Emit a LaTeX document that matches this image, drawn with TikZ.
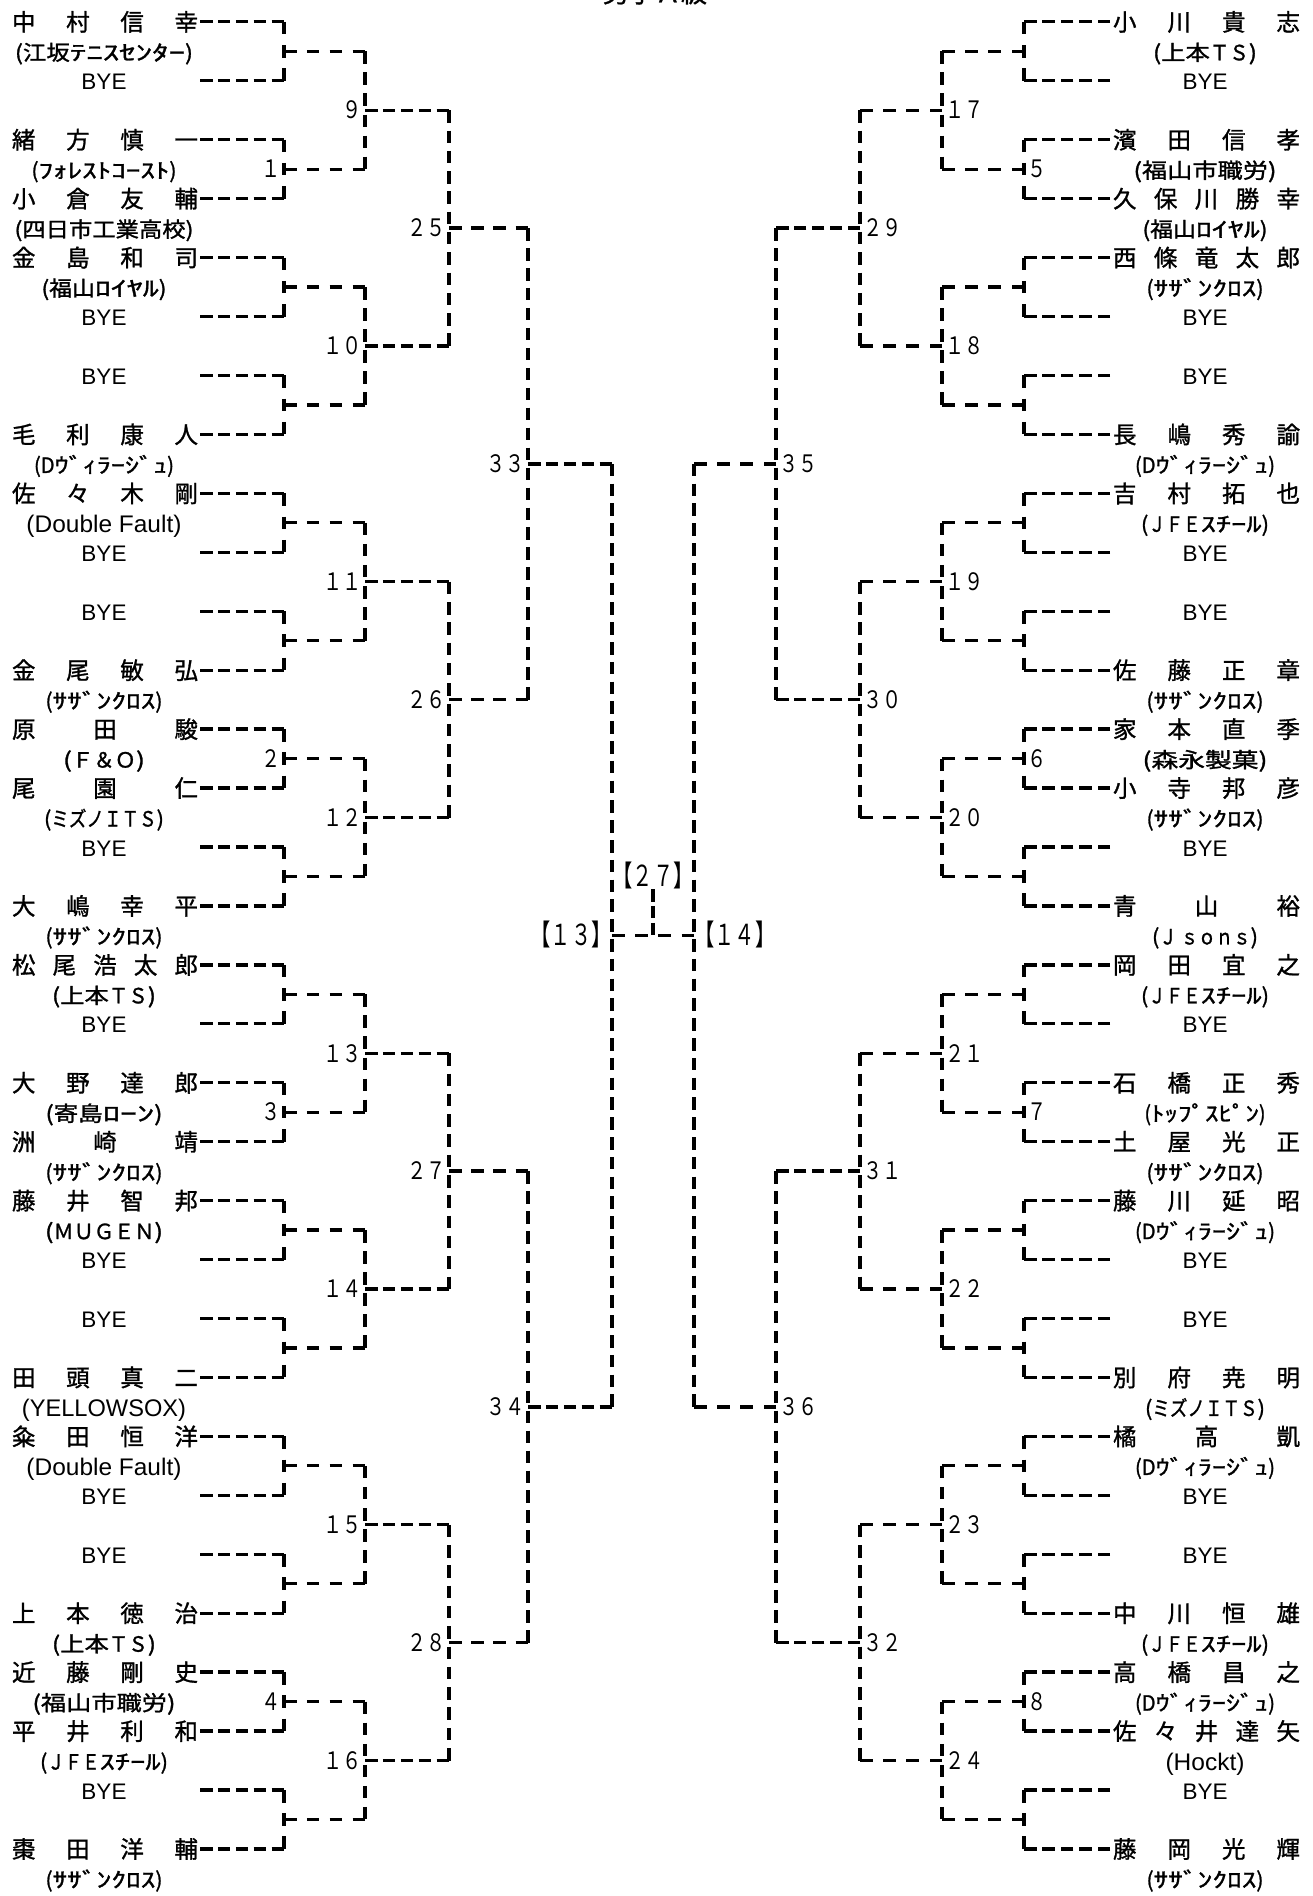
\documentclass[tikz,border=0pt]{standalone}
\usepackage{fontspec}
\usepackage{graphicx}
\setmainfont{Liberation Sans}
\newfontfamily\jp{Noto Sans CJK JP}
\newfontfamily\jpb{Noto Sans CJK JP}[FakeBold=1.2]
\newcommand\hw[1]{\scalebox{1.4}[1]{#1}}
\newcommand\fw[1]{\scalebox{0.8}[1]{#1}}
\newcommand\cw[2]{\resizebox{#1pt}{\height}{#2}}
\newcommand\kSC{\cw{117}{(\hw{ｻｻﾞﾝｸﾛｽ})}}
\newcommand\kDV{\cw{140}{(D\hw{ｳﾞｨﾗｰｼﾞｭ})}}
\newcommand\kUT{\cw{104}{(上本\fw{ＴＳ})}}
\newcommand\kFS{\cw{143}{(福山市職労)}}
\newcommand\kFR{\cw{125}{(福山\hw{ﾛｲﾔﾙ})}}
\newcommand\kJF{\cw{128}{(\fw{ＪＦＥ}\hw{ｽﾁｰﾙ})}}
\newcommand\kMZ{\cw{120}{(\fw{ミズノＩＴＳ})}}
\tikzset{
  br/.style={line width=3.3pt},
  nm/.style={inner sep=0pt, font=\jpb\fontsize{23.5}{23.5}\selectfont, text height=20.7pt, text depth=2.8pt},
  cl/.style={inner sep=0pt, font=\jpb\fontsize{21}{21}\selectfont, text height=18.5pt, text depth=2.5pt},
  cll/.style={inner sep=0pt, font=\fontsize{24}{24}\selectfont, text height=17.2pt, text depth=0pt},
  bye/.style={inner sep=0pt, font=\fontsize{22.5}{22.5}\selectfont, text height=16.1pt, text depth=0pt},
  num/.style={inner sep=0pt, font=\jp\fontsize{24}{24}\selectfont, text height=17.5pt, text depth=0pt},
  bnum/.style={inner sep=0pt, font=\jp\fontsize{29}{29}\selectfont, text height=21.2pt, text depth=0pt},
  numl/.style={num, anchor=east, xshift=-3pt},
  numr/.style={num, anchor=west, xshift=3pt},
}
% dashed segment with a dash at each end (gaps stretched to fit)
\newcommand\seg[2]{%
  \pgfpointdiff{\pgfpointanchor{#1}{center}}{\pgfpointanchor{#2}{center}}%
  \pgfgetlastxy{\sgx}{\sgy}%
  \pgfmathsetmacro\sgl{veclen(\sgx,\sgy)}%
  \pgfmathtruncatemacro\sgn{max(2,round((\sgl+7)/20))}%
  \pgfmathsetmacro\sgg{max(0.5,(\sgl-\sgn*12.5)/(\sgn-1))}%
  \draw[br, dash pattern=on 12.5pt off \sgg pt] (#1) -- (#2);}
% justified name: #1 prefix, #2 left x, #3 right x, #4 y, #5 chars
\newcommand\jnm[5]{%
  \foreach \jc [count=\jn] in {#5}{\xdef\nch{\jn}}%
  \foreach \jc [count=\jk from 0] in {#5}{%
    \pgfmathsetmacro\cx{#2+11.75+\jk*(#3-#2-23.5)/(\nch-1)}%
    \node[nm] (#1-\jk) at (\cx,#4) {\jc};}}
\newcommand\entL[3]{\pgfmathsetmacro\yy{21.8+58.94*#1}\jnm{nL#1}{12}{198}{\yy}{#2}\node[cl] (cL#1) at (104,\yy+30.5) {#3};}
\newcommand\entLl[3]{\pgfmathsetmacro\yy{21.8+58.94*#1}\jnm{nL#1}{12}{198}{\yy}{#2}\node[cll] (cL#1) at (104,\yy+30.5) {#3};}
\newcommand\byeL[1]{\pgfmathsetmacro\yy{21.8+58.94*#1}\node[bye] (bL#1) at (104,\yy+1) {BYE};}
\newcommand\entR[3]{\pgfmathsetmacro\yy{21.8+58.94*#1}\jnm{nR#1}{1113}{1300}{\yy}{#2}\node[cl] (cR#1) at (1205,\yy+30.5) {#3};}
\newcommand\entRl[3]{\pgfmathsetmacro\yy{21.8+58.94*#1}\jnm{nR#1}{1113}{1300}{\yy}{#2}\node[cll] (cR#1) at (1205,\yy+30.5) {#3};}
\newcommand\byeR[1]{\pgfmathsetmacro\yy{21.8+58.94*#1}\node[bye] (bR#1) at (1205,\yy+1) {BYE};}
\begin{document}
\begin{tikzpicture}[x=1pt,y=-1pt]
\useasboundingbox (0,0) rectangle (1313,1896);
\clip (0,0) rectangle (1313,1896);
\node[inner sep=0pt, anchor=base, font=\jpb\fontsize{26}{26}\selectfont] (title) at (655,2.3) {男子Ａ級};
% entry coordinates
\foreach \i in {0,...,31}{
  \pgfmathsetmacro\yy{21.8+58.94*\i}
  \coordinate (L0-\i) at (200,\yy);
  \coordinate (R0-\i) at (1110,\yy);
}
% junction coordinates
\foreach \r/\xl/\xr in {1/284/1024, 2/365/942, 3/449/860, 4/528/776, 5/612/694}{
  \pgfmathtruncatemacro\nm{32/2^\r - 1}
  \pgfmathtruncatemacro\pw{2^\r}
  \foreach \k in {0,...,\nm}{
    \pgfmathsetmacro\yy{21.8+58.94*(\k*\pw+(\pw-1)/2)}
    \coordinate (L\r-\k) at (\xl,\yy);
    \coordinate (R\r-\k) at (\xr,\yy);
  }
}
% brackets
\foreach \r in {1,...,5}{
  \pgfmathtruncatemacro\nm{32/2^\r - 1}
  \pgfmathtruncatemacro\p{\r-1}
  \foreach \k in {0,...,\nm}{
    \pgfmathtruncatemacro\a{2*\k}
    \pgfmathtruncatemacro\b{2*\k+1}
    \foreach \s in {L,R}{
      \coordinate (CA) at (\s\p-\a -| \s\r-\k);
      \coordinate (CB) at (\s\p-\b -| \s\r-\k);
      \seg{\s\p-\a}{CA}
      \seg{\s\p-\b}{CB}
      \seg{CA}{CB}
    }
  }
}
% final
\seg{L5-0}{R5-0}
\coordinate (F27) at (653,889);
\coordinate (F27b) at (F27 |- L5-0);
\seg{F27}{F27b}
\node[bnum] (n27) at (653,876) {\scalebox{0.7}[1]{【２７】}};
\node[bnum, anchor=east] (n13) at (L5-0) {\scalebox{0.7}[1]{【１３】}};
\node[bnum, anchor=west] (n14) at (R5-0) {\scalebox{0.7}[1]{【１４】}};
% match numbers
\foreach \k/\t in {1/１,6/２,9/３,14/４}{\node[numl] (nmL1-\k) at (L1-\k) {\scalebox{0.8}[1]{\t}};}
\foreach \k/\t in {1/５,6/６,9/７,14/８}{\node[numr] (nmR1-\k) at (R1-\k) {\scalebox{0.8}[1]{\t}};}
\foreach \k/\t in {0/９,1/１０,2/１１,3/１２,4/１３,5/１４,6/１５,7/１６}{\node[numl] (nmL2-\k) at (L2-\k) {\scalebox{0.8}[1]{\t}};}
\foreach \k/\t in {0/１７,1/１８,2/１９,3/２０,4/２１,5/２２,6/２３,7/２４}{\node[numr] (nmR2-\k) at (R2-\k) {\scalebox{0.8}[1]{\t}};}
\foreach \k/\t in {0/２５,1/２６,2/２７,3/２８}{\node[numl] (nmL3-\k) at (L3-\k) {\scalebox{0.8}[1]{\t}};}
\foreach \k/\t in {0/２９,1/３０,2/３１,3/３２}{\node[numr] (nmR3-\k) at (R3-\k) {\scalebox{0.8}[1]{\t}};}
\foreach \k/\t in {0/３３,1/３４}{\node[numl] (nmL4-\k) at (L4-\k) {\scalebox{0.8}[1]{\t}};}
\foreach \k/\t in {0/３５,1/３６}{\node[numr] (nmR4-\k) at (R4-\k) {\scalebox{0.8}[1]{\t}};}
% left entries
\entL{0}{中,村,信,幸}{\cw{178}{(江坂\hw{ﾃﾆｽｾﾝﾀｰ})}}
\byeL{1}
\entL{2}{緒,方,慎,一}{\cw{145}{(\hw{ﾌｫﾚｽﾄｺｰｽﾄ})}}
\entL{3}{小,倉,友,輔}{\cw{179}{(四日市工業高校)}}
\entL{4}{金,島,和,司}{\kFR}
\byeL{5}
\byeL{6}
\entL{7}{毛,利,康,人}{\kDV}
\entLl{8}{佐,々,木,剛}{\cw{155}{(Double Fault)}}
\byeL{9}
\byeL{10}
\entL{11}{金,尾,敏,弘}{\kSC}
\entL{12}{原,田,駿}{\cw{82}{(\fw{Ｆ＆Ｏ})}}
\entL{13}{尾,園,仁}{\kMZ}
\byeL{14}
\entL{15}{大,嶋,幸,平}{\kSC}
\entL{16}{松,尾,浩,太,郎}{\kUT}
\byeL{17}
\entL{18}{大,野,達,郎}{\cw{117}{(寄島\hw{ﾛｰﾝ})}}
\entL{19}{洲,崎,靖}{\kSC}
\entL{20}{藤,井,智,邦}{\cw{118}{(\fw{ＭＵＧＥＮ})}}
\byeL{21}
\byeL{22}
\entLl{23}{田,頭,真,二}{\cw{164}{(YELLOWSOX)}}
\entLl{24}{粂,田,恒,洋}{\cw{155}{(Double Fault)}}
\byeL{25}
\byeL{26}
\entL{27}{上,本,徳,治}{\kUT}
\entL{28}{近,藤,剛,史}{\kFS}
\entL{29}{平,井,利,和}{\kJF}
\byeL{30}
\entL{31}{棗,田,洋,輔}{\kSC}
% right entries
\entR{0}{小,川,貴,志}{\kUT}
\byeR{1}
\entR{2}{濱,田,信,孝}{\kFS}
\entR{3}{久,保,川,勝,幸}{\kFR}
\entR{4}{西,條,竜,太,郎}{\kSC}
\byeR{5}
\byeR{6}
\entR{7}{長,嶋,秀,諭}{\kDV}
\entR{8}{吉,村,拓,也}{\kJF}
\byeR{9}
\byeR{10}
\entR{11}{佐,藤,正,章}{\kSC}
\entR{12}{家,本,直,季}{\cw{125}{(森永製菓)}}
\entR{13}{小,寺,邦,彦}{\kSC}
\byeR{14}
\entR{15}{青,山,裕}{\cw{106}{(\fw{Ｊ ｓｏｎｓ})}}
\entR{16}{岡,田,宜,之}{\kJF}
\byeR{17}
\entR{18}{石,橋,正,秀}{\cw{121}{(\hw{ﾄｯﾌﾟｽﾋﾟﾝ})}}
\entR{19}{土,屋,光,正}{\kSC}
\entR{20}{藤,川,延,昭}{\kDV}
\byeR{21}
\byeR{22}
\entR{23}{別,府,尭,明}{\kMZ}
\entR{24}{橘,高,凱}{\kDV}
\byeR{25}
\byeR{26}
\entR{27}{中,川,恒,雄}{\kJF}
\entR{28}{高,橋,昌,之}{\kDV}
\entRl{29}{佐,々,井,達,矢}{\cw{79}{(Hockt)}}
\byeR{30}
\entR{31}{藤,岡,光,輝}{\kSC}
\end{tikzpicture}
\end{document}
